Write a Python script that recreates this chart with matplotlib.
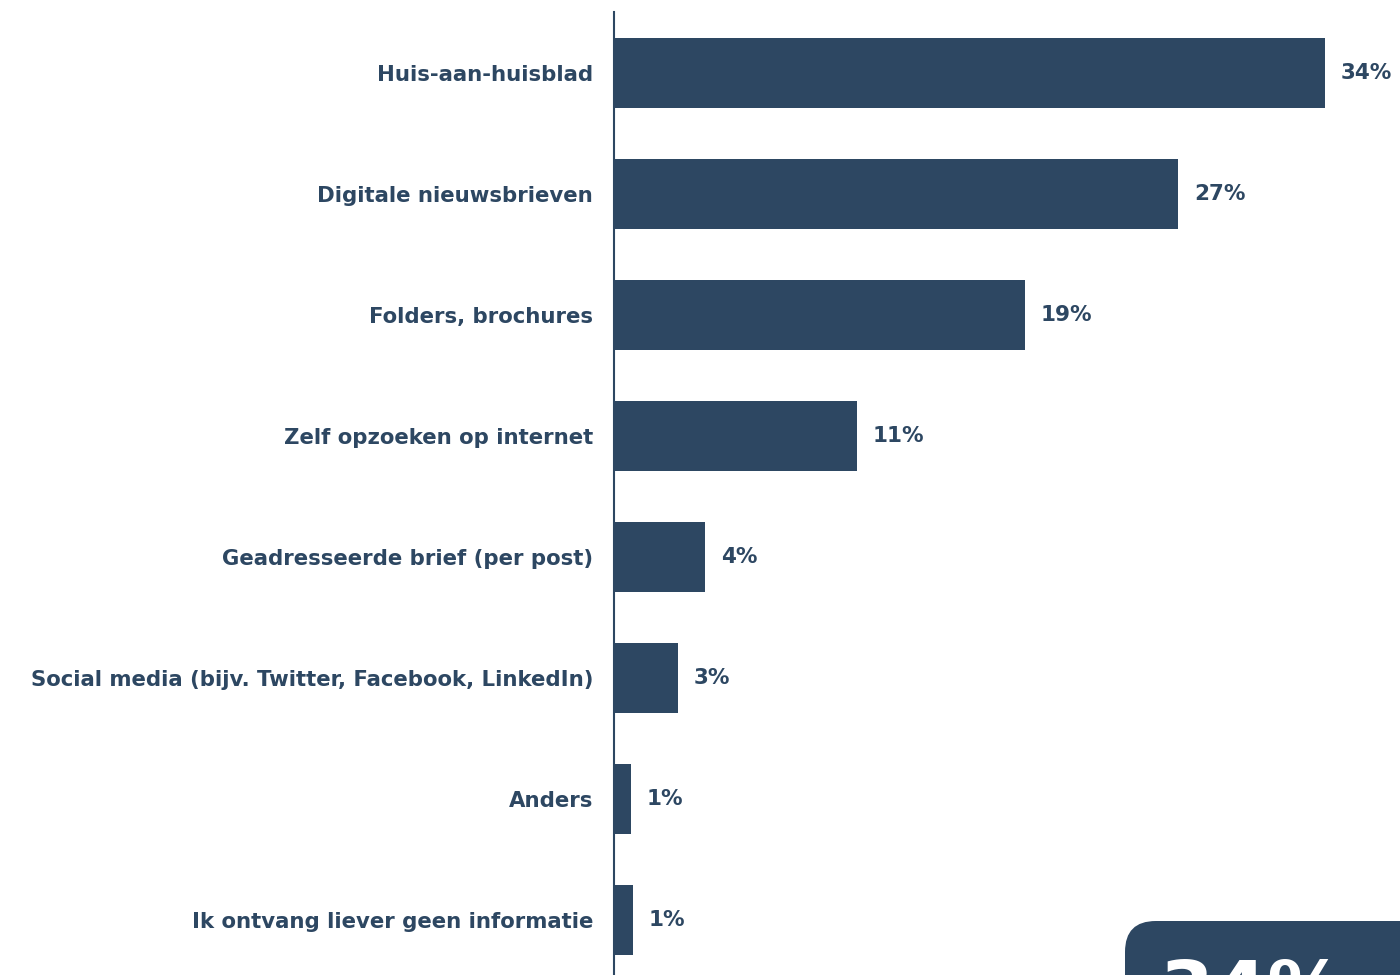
import matplotlib.pyplot as plt
from matplotlib.patches import FancyBboxPatch

plt.rcParams["font.family"] = "DejaVu Sans"

COLOR = "#2D4762"

categories = [
    "Huis-aan-huisblad",
    "Digitale nieuwsbrieven",
    "Folders, brochures",
    "Zelf opzoeken op internet",
    "Geadresseerde brief (per post)",
    "Social media (bijv. Twitter, Facebook, LinkedIn)",
    "Anders",
    "Ik ontvang liever geen informatie",
]
values = [34.0, 27.0, 19.65, 11.6, 4.35, 3.05, 0.8, 0.9]
value_labels = ["34%", "27%", "19%", "11%", "4%", "3%", "1%", "1%"]
highlight_label = "34%"

fig = plt.figure(figsize=(14, 9.75), dpi=100)
ax = fig.add_axes([0.4386, 0.0, 0.5614, 0.9877])

y = list(range(len(categories)))
ax.barh(y, values, height=0.58, color=COLOR)

for yi, v, lab in zip(y, values, value_labels):
    ax.annotate(lab, xy=(v, yi), xytext=(11.5, 0), textcoords="offset points",
                va="center", ha="left", fontsize=15.5, fontweight="bold", color=COLOR,
                annotation_clip=False)

ax.set_xlim(0, 37.6)
ax.set_ylim(7.455, -0.504)
ax.set_yticks(y)
ax.set_yticklabels(categories, fontsize=15.3, fontweight="bold", color=COLOR)
ax.tick_params(axis="y", length=0, pad=15)
ax.set_xticks([])
for side in ["top", "right", "bottom"]:
    ax.spines[side].set_visible(False)
ax.spines["left"].set_color(COLOR)
ax.spines["left"].set_linewidth(1.5)

# donkere kader rechtsonder, valt deels buiten beeld
box = FancyBboxPatch((1125 / 1400, -0.2), 0.3, 0.2 + (975 - 921) / 975,
                     boxstyle="round,pad=0,rounding_size=0.022",
                     transform=fig.transFigure, facecolor=COLOR, edgecolor="none",
                     mutation_aspect=1400 / 975)
fig.patches.append(box)
fig.text(1160 / 1400, (975 - 957) / 975, highlight_label, ha="left", va="top",
         fontsize=56, fontweight="bold", color="white")

fig.savefig("out.png", dpi=100)
